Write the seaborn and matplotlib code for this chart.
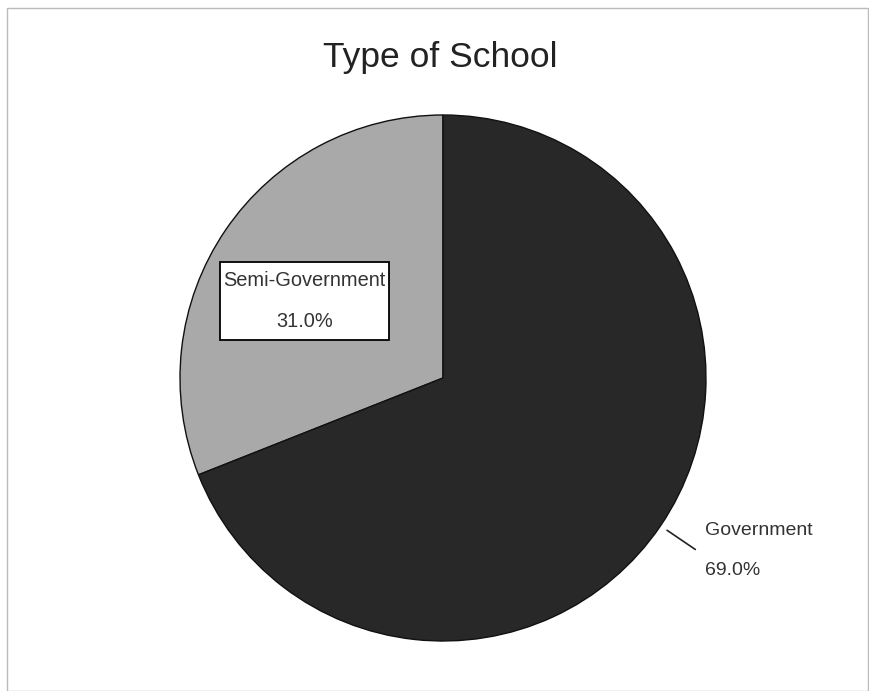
import matplotlib.pyplot as plt
import matplotlib.patches as mpatches
import numpy as np
import seaborn as sns

# data
categories = ['Semi-Government', 'Government']
shares = [31.0, 69.0]
colors = ['#a9a9a9', '#282828']

sns.set_theme(style='white')
plt.rcParams['font.family'] = ['Liberation Sans', 'DejaVu Sans']

W, H = 869, 691
fig = plt.figure(figsize=(W / 100, H / 100), dpi=100)
fig.patch.set_facecolor('white')

# axes spans whole figure, data units == pixels (y up)
ax = fig.add_axes([0, 0, 1, 1])
cx, cy, r = 443, H - 378, 263

wedges, _ = ax.pie(shares, colors=colors, startangle=90, counterclock=True,
                   center=(cx, cy), radius=r,
                   wedgeprops=dict(edgecolor='#111111', linewidth=1.0))
ax.set_xlim(0, W)
ax.set_ylim(0, H)
ax.set_aspect('equal')
ax.axis('off')

txt = '#333333'

# Semi-Government label: boxed, inside the wedge
w = wedges[0]
mid = np.deg2rad((w.theta1 + w.theta2) / 2)
lx, ly = cx + 0.6 * r * np.cos(mid) - 8, cy + 0.6 * r * np.sin(mid) - 12
semi = ax.text(lx, ly, f'{categories[0]}\n{shares[0]:.1f}%', ha='center',
               va='center', fontsize=14.4, color=txt, linespacing=2.45,
               zorder=5)

# Government label: outside with leader line
w = wedges[1]
mid = np.deg2rad((w.theta1 + w.theta2) / 2)
x0, y0 = cx + 1.03 * r * np.cos(mid), cy + 1.03 * r * np.sin(mid)
x1, y1 = cx + 1.16 * r * np.cos(mid), cy + 1.16 * r * np.sin(mid)
ax.plot([x0, x1], [y0, y1], color='#222222', lw=1.2)
ax.text(x1 + 10, y1 + 19, categories[1], ha='left', va='center',
        fontsize=14, color=txt)
ax.text(x1 + 10, y1 - 21, f'{shares[1]:.1f}%', ha='left', va='center',
        fontsize=14, color=txt)

fig.text(440 / W, 1 - 57 / H, 'Type of School', ha='center', va='center',
         fontsize=25.5, color='#222222')

# white box round the Semi-Government label (tight sides, roomy top/bottom)
fig.canvas.draw()
bb = semi.get_window_extent().transformed(ax.transData.inverted())
pad_y = (78 - bb.height) / 2
ax.add_patch(mpatches.Rectangle((bb.x0 - 3, bb.y0 - pad_y), bb.width + 6,
                                bb.height + 2 * pad_y, facecolor='white',
                                edgecolor='black', linewidth=1.3, zorder=4))

# thin frame round the chart area
fig.patches.append(mpatches.Rectangle((7 / W, 0), (868 - 7) / W, 1 - 8 / H,
                                      transform=fig.transFigure, fill=False,
                                      edgecolor='#bbbbbb', linewidth=1.0))

fig.savefig('out.png', dpi=100, facecolor='white')
